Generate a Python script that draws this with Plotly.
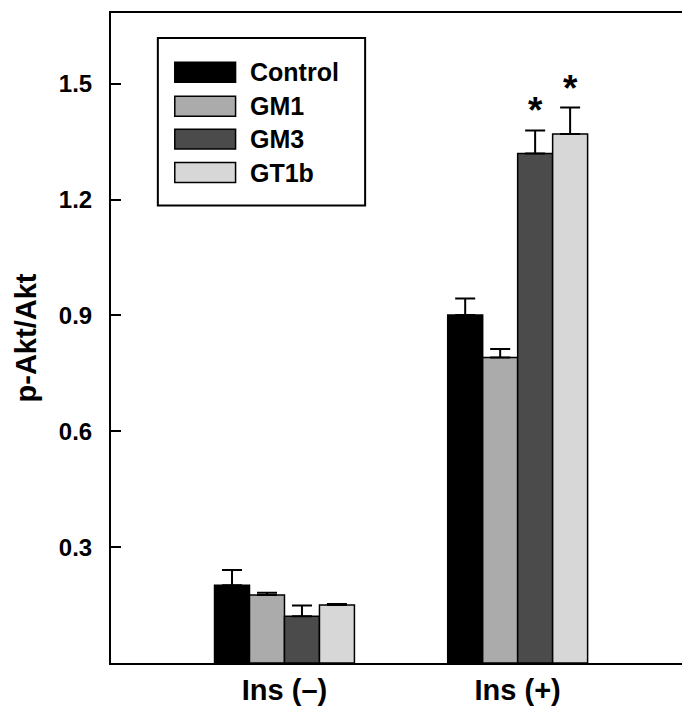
import plotly.graph_objects as go

# ---- data ----
categories = ["Ins (–)", "Ins (+)"]
series_names = ["Control", "GM1", "GM3", "GT1b"]
control = [0.201, 0.901]
gm1 = [0.176, 0.791]
gm3 = [0.121, 1.319]
gt1b = [0.150, 1.370]
control_err = [0.040, 0.043]
gm1_err = [0.006, 0.022]
gm3_err = [0.028, 0.060]
gt1b_err = [0.003, 0.068]
significant = {"GM3": [False, True], "GT1b": [False, True]}
y_ticks = [0.3, 0.6, 0.9, 1.2, 1.5]

colors = ["#000000", "#ababab", "#4b4b4b", "#d7d7d7"]
values = [control, gm1, gm3, gt1b]
errors = [control_err, gm1_err, gm3_err, gt1b_err]

FONT = "Arial, Liberation Sans, sans-serif"
W, H = 690, 706
L, R, T, B = 103, 3, 3, 51
PW, PH = W - L - R, H - T - B

xpos = list(range(len(categories)))
bargap = 0.4
nser = len(series_names)
bw = (1 - bargap) / nser

fig = go.Figure()
for i, (name, vals, errs, col) in enumerate(zip(series_names, values, errors, colors)):
    fig.add_trace(go.Bar(
        name=name, x=xpos, y=vals,
        marker=dict(color=col, line=dict(color="black", width=1.5)),
        error_y=dict(type="data", symmetric=False, array=errs,
                     arrayminus=[0] * len(errs), color="black",
                     thickness=2, width=10),
        showlegend=False,
    ))

# significance stars
for i, name in enumerate(series_names):
    if name in significant:
        for j, sig in enumerate(significant[name]):
            if sig:
                off = -(1 - bargap) / 2 + bw * (i + 0.5)
                fig.add_annotation(
                    x=xpos[j] + off, y=values[i][j] + errors[i][j],
                    text="<b>*</b>", showarrow=False, yanchor="bottom",
                    yshift=-3, font=dict(family=FONT, size=37, color="black"))

# custom legend (layout decoration)
def px_x(p):
    return (p - L) / PW

def px_y(p):
    return (H - B - p) / PH

fig.add_shape(type="rect", xref="paper", yref="paper",
              x0=px_x(150), x1=px_x(358), y0=px_y(196), y1=px_y(28),
              line=dict(color="black", width=2), fillcolor="white", layer="above")
row_centers = [62.5, 96.5, 129.5, 163]
for name, col, cy in zip(series_names, colors, row_centers):
    fig.add_shape(type="rect", xref="paper", yref="paper",
                  x0=px_x(167), x1=px_x(228), y0=px_y(cy + 10), y1=px_y(cy - 10),
                  line=dict(color="black", width=1.5), fillcolor=col, layer="above")
    fig.add_annotation(xref="paper", yref="paper", x=px_x(240), y=px_y(cy),
                       xanchor="left", yanchor="middle", showarrow=False,
                       text=f"<b>{name}</b>",
                       font=dict(family=FONT, size=25, color="black"))

fig.update_layout(
    width=W, height=H,
    margin=dict(l=L, r=R, t=T, b=B),
    paper_bgcolor="white", plot_bgcolor="white",
    barmode="group", bargap=bargap, bargroupgap=0,
    font=dict(family=FONT, color="black"),
)
fig.update_xaxes(
    range=[-0.744, 1.752], tickvals=xpos,
    ticktext=[f"<b>{c}</b>" for c in categories],
    tickfont=dict(family=FONT, size=29, color="black"),
    showline=True, linecolor="black", linewidth=2, mirror=True,
    ticks="", showgrid=False, zeroline=False, ticklabelstandoff=0,
)
fig.update_yaxes(
    range=[0, 1.683], tickvals=y_ticks,
    ticktext=[f"<b>{v:.1f}</b>" for v in y_ticks],
    tickfont=dict(family=FONT, size=24, color="black"),
    showline=True, linecolor="black", linewidth=2, mirror="ticks",
    ticks="inside", ticklen=10, tickwidth=2, tickcolor="black",
    showgrid=False, zeroline=False, ticklabelstandoff=12,
    title=dict(text="<b>p-Akt/Akt</b>", font=dict(family=FONT, size=29, color="black"),
               standoff=14),
)

fig.write_html("out.html")
